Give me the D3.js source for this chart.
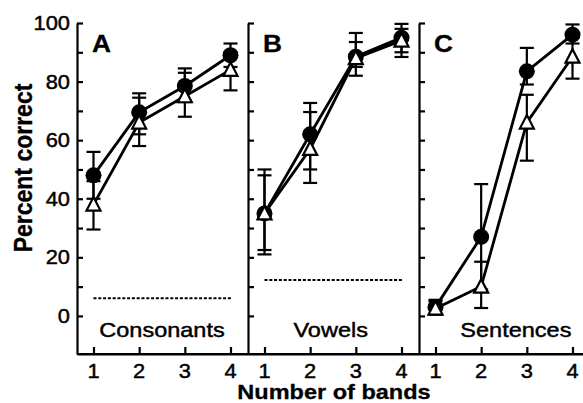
<!DOCTYPE html>
<html><head><meta charset="utf-8">
<script src="https://cdn.jsdelivr.net/npm/d3@7"></script>
<style>
html,body{margin:0;padding:0;background:#fff;}
svg{display:block;}
text{font-family:"Liberation Sans",Arial,Helvetica,sans-serif;fill:#000;}
</style></head>
<body>
<svg id="chart" width="583" height="403"></svg>
<script>
// ---- data ----
const bands = [1, 2, 3, 4];
const panelLetters = ["A", "B", "C"];
const panelNames = ["Consonants", "Vowels", "Sentences"];
const chanceLevel = [6, 12.3, null];
const yTickLabels = [0, 20, 40, 60, 80, 100];
const yMinorTicks = [0, 10, 20, 30, 40, 50, 60, 70, 80, 90, 100];

// filled circles
const filledMean = [[48, 69.5, 78.5, 89], [35, 62, 88.5, 95], [3, 27, 83.5, 96]];
const filledLow  = [[40, 62, 73, 85], [22.5, 50, 85, 90], [0.5, 9, 79, 93]];
const filledHigh = [[56, 76, 84.5, 93], [50, 72.7, 96.6, 99.7], [5.5, 45, 91.5, 99.5]];
// open triangles
const openMean = [[38, 66, 75, 84], [35, 57, 88, 94], [2.5, 10, 66, 88.5]];
const openLow  = [[29.5, 58, 68, 77], [21, 45.4, 82, 88.4], [0.5, 2.7, 53, 81]];
const openHigh = [[46, 74.5, 83, 90], [48, 69.6, 93.5, 98], [5, 18.5, 75.5, 95]];

// ---- layout ----
const svg = d3.select("#chart");
const SX = 1.12; // horizontal glyph stretch of the original
const y = d3.scaleLinear().domain([-13, 100]).range([354, 23]);
const panelW = 171;
const panelLeft = [77, 248, 419];
const xScales = panelLeft.map(l => d3.scaleLinear().domain([0.639, 4.383]).range([l, l + panelW]));
const nameCenter = [2.5, 2.45, 2.76];

function stretchedText(g, x, yy, str, size, weight, anchor) {
  return g.append("text")
    .attr("transform", `translate(${x},${yy}) scale(${SX},1)`)
    .attr("text-anchor", anchor)
    .style("font-size", size + "px")
    .style("font-weight", weight)
    .style("stroke", "#000")
    .style("stroke-width", weight === "bold" ? 0.3 : 0.45)
    .text(str);
}

const triPath = "M0,-7.5L7,6L-7,6Z";

panelLetters.forEach((letter, i) => {
  const x = xScales[i];
  const g = svg.append("g");

  // left frame line with inward ticks
  const ax = g.append("g").attr("transform", `translate(${panelLeft[i]},0)`)
    .call(d3.axisRight(y).tickValues(yMinorTicks).tickSize(6).tickSizeOuter(0).tickFormat(""));
  ax.selectAll("path,line").attr("stroke", "#000").attr("stroke-width", 2.2);

  // bottom axis with inward ticks
  const bx = g.append("g").attr("transform", `translate(0,${y(-13)})`)
    .call(d3.axisTop(x).tickValues(bands).tickSize(7).tickSizeOuter(0).tickFormat(""));
  bx.selectAll("path,line").attr("stroke", "#000").attr("stroke-width", 2.2);

  // x tick labels
  bands.forEach(b => stretchedText(g, x(b), 378, String(b), 19.5, "normal", "middle"));

  // panel letter
  stretchedText(g, panelLeft[i] + 15, 52, letter, 23.5, "bold", "start");

  // condition name
  stretchedText(g, x(nameCenter[i]), 337, panelNames[i], 21, "normal", "middle");

  // chance line
  if (chanceLevel[i] != null) {
    g.append("line")
      .attr("x1", x(1)).attr("x2", x(4.03))
      .attr("y1", y(chanceLevel[i])).attr("y2", y(chanceLevel[i]))
      .attr("stroke", "#000").attr("stroke-width", 2)
      .attr("stroke-dasharray", "3,1.8");
  }

  const series = [
    {mean: filledMean[i], lo: filledLow[i], hi: filledHigh[i], kind: "circle"},
    {mean: openMean[i], lo: openLow[i], hi: openHigh[i], kind: "tri"}
  ];

  // error bars
  series.forEach(s => {
    bands.forEach((b, j) => {
      const cx = x(b);
      g.append("line").attr("x1", cx).attr("x2", cx)
        .attr("y1", y(s.lo[j])).attr("y2", y(s.hi[j]))
        .attr("stroke", "#000").attr("stroke-width", 2.2);
      [s.lo[j], s.hi[j]].forEach(v => {
        g.append("line").attr("x1", cx - 7).attr("x2", cx + 7)
          .attr("y1", y(v)).attr("y2", y(v))
          .attr("stroke", "#000").attr("stroke-width", 2.2);
      });
    });
  });

  // connecting lines
  const line = d3.line().x((d, j) => x(bands[j])).y(d => y(d));
  series.forEach(s => {
    g.append("path").attr("d", line(s.mean))
      .attr("fill", "none").attr("stroke", "#000").attr("stroke-width", 2.8);
  });

  // markers
  g.selectAll(".dot").data(filledMean[i]).enter().append("circle")
    .attr("cx", (d, j) => x(bands[j])).attr("cy", d => y(d)).attr("r", 8)
    .attr("fill", "#000");
  g.selectAll(".tri").data(openMean[i]).enter().append("path")
    .attr("d", triPath)
    .attr("transform", (d, j) => `translate(${x(bands[j])},${y(d)})`)
    .attr("fill", "#fff").attr("stroke", "#000").attr("stroke-width", 2.2);
});

// bottom axis line across whole chart
svg.append("line").attr("x1", 77).attr("x2", 583).attr("y1", y(-13)).attr("y2", y(-13))
  .attr("stroke", "#000").attr("stroke-width", 2.2);

// y tick labels (panel A only)
yTickLabels.forEach(v => stretchedText(svg, 70, y(v) + 7, String(v), 19.5, "normal", "end"));

// axis titles
svg.append("text")
  .attr("transform", `translate(32,168) scale(${SX},1) rotate(-90)`)
  .attr("text-anchor", "middle")
  .style("font-size", "23px").style("font-weight", "bold")
  .style("stroke", "#000").style("stroke-width", 0.3)
  .text("Percent correct");
stretchedText(svg, 334, 399, "Number of bands", 21, "bold", "middle");
</script>
</body></html>
